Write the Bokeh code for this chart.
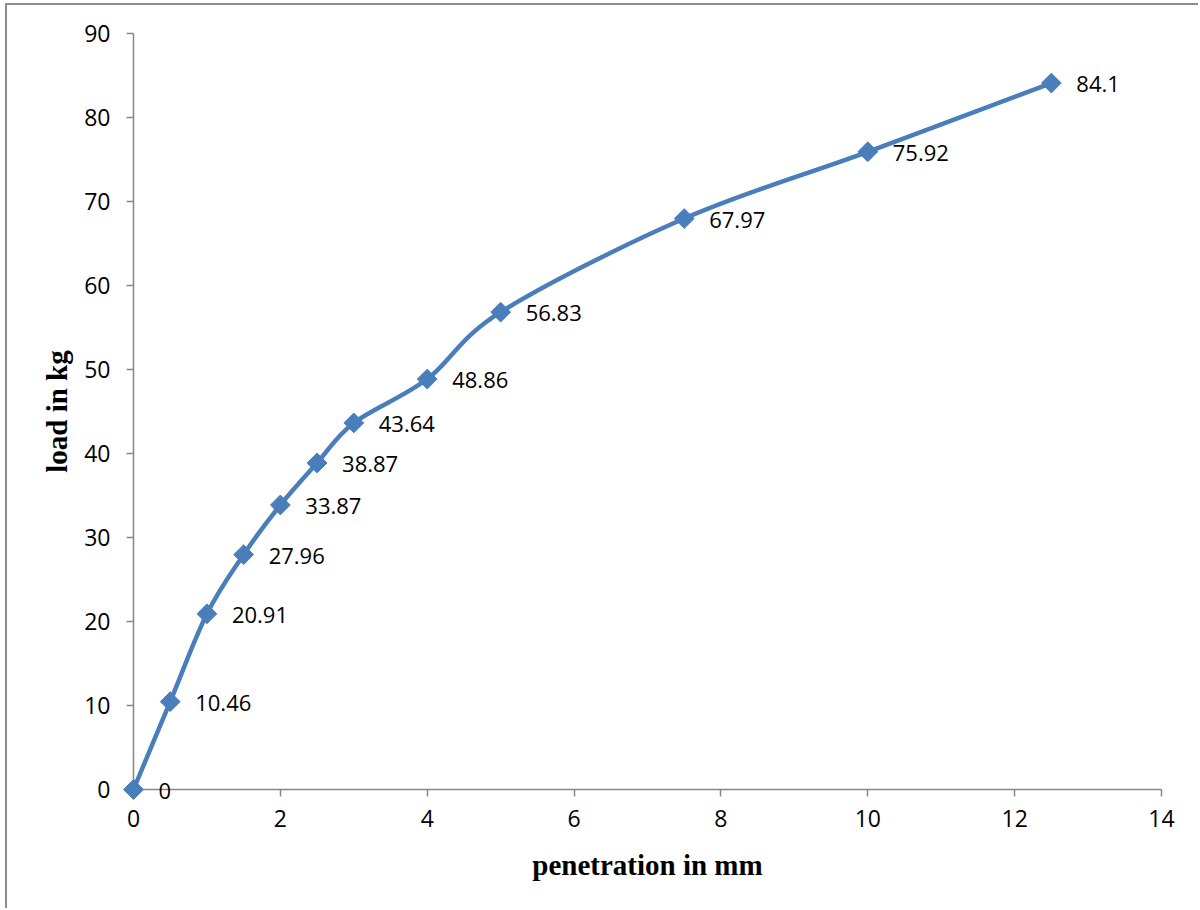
from bokeh.plotting import figure
from bokeh.models import ColumnDataSource, FixedTicker
from bokeh.core.properties import value
from bokeh.embed import file_html
from bokeh.resources import INLINE

penetration = [0, 0.5, 1, 1.5, 2, 2.5, 3, 4, 5, 7.5, 10, 12.5]
load = [0, 10.46, 20.91, 27.96, 33.87, 38.87, 43.64, 48.86, 56.83, 67.97, 75.92, 84.1]
labels = ["0", "10.46", "20.91", "27.96", "33.87", "38.87", "43.64", "48.86", "56.83", "67.97", "75.92", "84.1"]
x_ticks = [0, 2, 4, 6, 8, 10, 12, 14]
y_ticks = [0, 10, 20, 30, 40, 50, 60, 70, 80, 90]

LINE = "#4A7EBB"

# host element is shifted by 5px/3px plus a 2px border on left/top
p = figure(width=1193, height=905, x_range=(0, 14), y_range=(0, 90),
           output_backend="svg", toolbar_location=None,
           min_border_left=126, min_border_right=39, min_border_top=28, min_border_bottom=121)
p.styles = {"margin-left": "5px", "margin-top": "3px",
            "border-left": "2px solid #8c8c8c", "border-top": "2px solid #8c8c8c"}
p.outline_line_color = None
p.xgrid.visible = False
p.ygrid.visible = False

for ax in (p.xaxis[0], p.yaxis[0]):
    ax.axis_line_color = "#868686"
    ax.axis_line_width = 1.5
    ax.major_tick_line_color = "#868686"
    ax.major_tick_line_width = 1.5
    ax.major_tick_out = 7
    ax.major_tick_in = 0
    ax.minor_tick_line_color = None
    ax.major_label_text_font = "Open Sans"
    ax.major_label_text_font_size = "23px"
    ax.major_label_text_color = "black"
    ax.axis_label_text_font = "Liberation Serif"
    ax.axis_label_text_font_style = "bold"
    ax.axis_label_text_font_size = "29px"
    ax.axis_label_text_color = "black"

p.xaxis.ticker = FixedTicker(ticks=x_ticks)
p.yaxis.ticker = FixedTicker(ticks=y_ticks)
p.xaxis.axis_label = "penetration in mm"
p.yaxis.axis_label = "load in kg"
p.xaxis.major_label_standoff = 13
p.yaxis.major_label_standoff = 16
p.xaxis.axis_label_standoff = 19
p.yaxis.axis_label_standoff = 8

# smoothed line via Catmull-Rom style Bezier segments (Excel smoothing)
n = len(penetration)
x0, y0, x1, y1, cx0, cy0, cx1, cy1 = [], [], [], [], [], [], [], []
for i in range(n - 1):
    xm = penetration[i - 1] if i > 0 else penetration[i]
    ym = load[i - 1] if i > 0 else load[i]
    xp = penetration[i + 2] if i + 2 < n else penetration[i + 1]
    yp = load[i + 2] if i + 2 < n else load[i + 1]
    x0.append(penetration[i]); y0.append(load[i])
    x1.append(penetration[i + 1]); y1.append(load[i + 1])
    cx0.append(penetration[i] + (penetration[i + 1] - xm) / 6)
    cy0.append(load[i] + (load[i + 1] - ym) / 6)
    cx1.append(penetration[i + 1] - (xp - penetration[i]) / 6)
    cy1.append(load[i + 1] - (yp - load[i]) / 6)

line_r = p.bezier(x0=x0, y0=y0, x1=x1, y1=y1, cx0=cx0, cy0=cy0, cx1=cx1, cy1=cy1,
                  line_color=LINE, line_width=4.5, line_cap="round")
line_r.level = "overlay"

src = ColumnDataSource(dict(x=penetration, y=load, label=labels))
mk = p.scatter("x", "y", source=src, marker="square", angle=0.7853981634, size=14,
               fill_color=LINE, line_color=LINE)
mk.level = "overlay"

txt = p.text("x", "y", text="label", source=src, x_offset=25, y_offset=1,
             text_font=value("Open Sans"), text_font_size="22px", text_color="black",
             text_baseline="middle", text_align="left")
txt.level = "overlay"

open("out.html", "w").write(file_html(p, INLINE))
